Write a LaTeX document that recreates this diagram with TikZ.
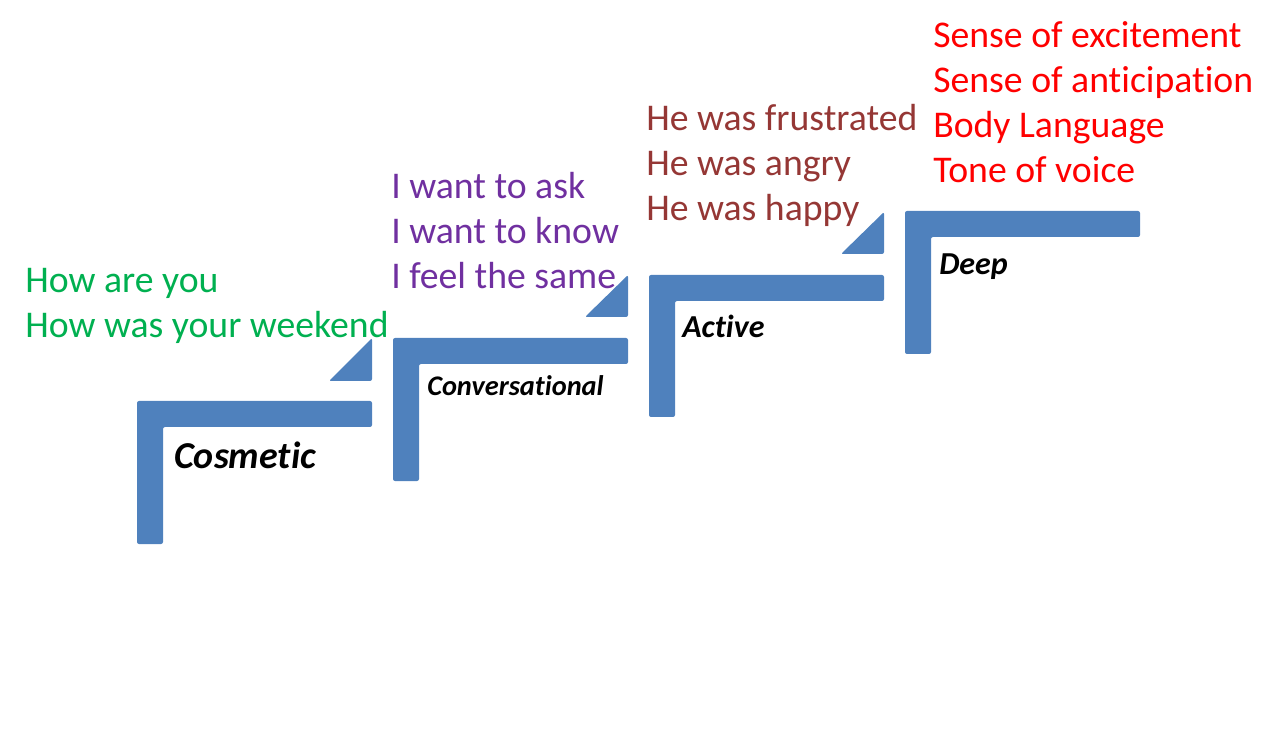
\documentclass[tikz,border=0pt]{standalone}
\usepackage{fontspec}
\setmainfont{Carlito}[Ligatures=NoCommon]
\usetikzlibrary{positioning}
\definecolor{stepBlue}{HTML}{4F81BD}
\definecolor{sayGreen}{HTML}{00B050}
\definecolor{sayPurple}{HTML}{7030A0}
\definecolor{sayBrown}{HTML}{953735}
\definecolor{sayRed}{HTML}{FF0000}

\begin{document}
\begin{tikzpicture}[
      x=0.75pt,y=-0.75pt,
      stepfill/.style={fill=stepBlue,rounded corners=1.5pt},
      saying/.style={anchor=base west,inner sep=0pt,align=left,font=\fontsize{28.3}{33.75}\selectfont},
      level/.style={anchor=base west,inner sep=0pt,text=black}
    ]
    \useasboundingbox (0,0) rectangle (1279,745);
    % the four steps
    \fill[stepfill] (137,544) |- (372,401) |- (163,427) -- (163,544) -- cycle;
    \fill[stepfill] (393,481) |- (628,338) |- (419,364) -- (419,481) -- cycle;
    \fill[stepfill] (649,417) |- (884,275) |- (675,301) -- (675,417) -- cycle;
    \fill[stepfill] (905,354) |- (1140,211) |- (931,237) -- (931,354) -- cycle;
    % small wedges between the steps
    \fill[stepfill] (372,381) -- (372,338) -- (329,381) -- cycle;
    \fill[stepfill] (628,317) -- (628,275) -- (585,317) -- cycle;
    \fill[stepfill] (884,254) -- (884,212) -- (841,254) -- cycle;
    % level names
    \node[level,font=\fontsize{28.5}{34}\selectfont\bfseries\itshape] (cosmetic) at (174,469) {Cosmetic};
    \node[level,font=\fontsize{21.3}{25}\selectfont\bfseries\itshape] (conv) at (427,396) {Conversational};
    \node[level,font=\fontsize{24}{29}\selectfont\bfseries\itshape] (active) at (682,338) {Active};
    \node[level,font=\fontsize{24}{29}\selectfont\bfseries\itshape] (deep) at (939,275) {Deep};
    % what is said at each level (anchored at the last line)
    \node[saying,text=sayGreen] (cosmeticsay) at (25,338) {How are you\\How was your weekend};
    \node[saying,text=sayPurple] (convsay) at (391,289) {I want to ask\\I want to know\\I feel the same};
    \node[saying,text=sayBrown] (activesay) at (646,221) {He was frustrated\\He was angry\\He was happy};
    \node[saying,text=sayRed] (deepsay) at (933,183)
      {Sense of excitement\\Sense of anticipation\\Body Language\\Tone of voice};
  \end{tikzpicture}
\end{document}
